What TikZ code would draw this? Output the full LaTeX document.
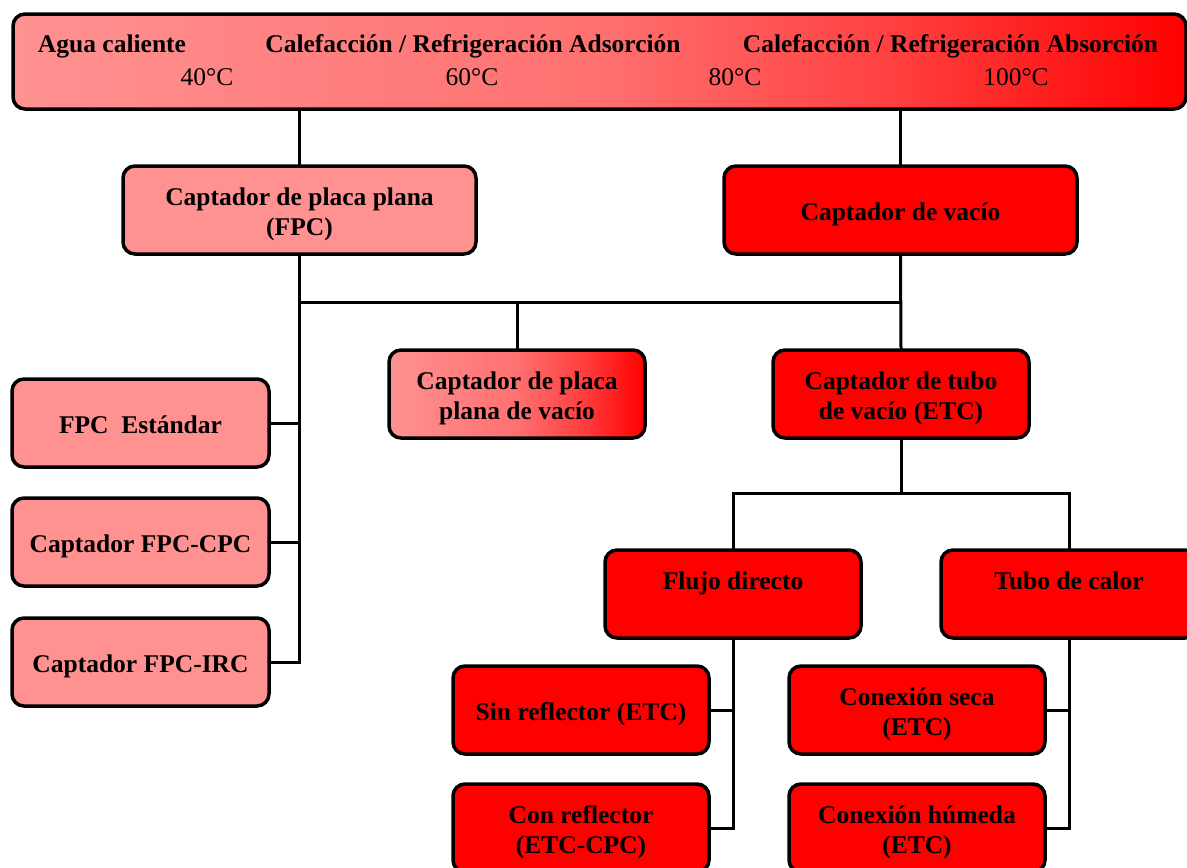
\documentclass[tikz,border=0pt]{standalone}
\usepackage{fontspec}
\setmainfont{Liberation Serif}
\definecolor{pinkc}{RGB}{255,145,145}
\definecolor{redc}{RGB}{255,0,0}
\pgfdeclarehorizontalshading{heatshade}{100bp}{rgb(0bp)=(1,0.57,0.57); rgb(25bp)=(1,0.57,0.57); rgb(50bp)=(1,0.44,0.44); rgb(62.5bp)=(1,0.25,0.25); rgb(75bp)=(1,0,0); rgb(100bp)=(1,0,0)}
\newcommand{\bt}[1]{\raisebox{-4.5pt}[\height][\depth]{\begin{tabular}{@{}c@{}}#1\end{tabular}}}
\tikzset{
  box/.style={draw=black, line width=3.5pt, rounded corners=12pt, minimum width=256pt, minimum height=88pt,
    inner sep=0pt, font=\fontsize{25.5}{29.5}\selectfont\bfseries},
  pinkbox/.style={box, fill=pinkc},
  redbox/.style={box, fill=redc},
  gradbox/.style={box, shading=heatshade},
  conn/.style={line width=3pt, line cap=rect},
  toptxt/.style={inner sep=0pt, font=\fontsize{25.5}{29}\selectfont\bfseries},
  toptemp/.style={inner sep=0pt, font=\fontsize{25.5}{29}\selectfont},
}
\begin{document}
\begin{tikzpicture}[x=1pt,y=-1pt]
\useasboundingbox (0,0) rectangle (1187,868);
\clip (0,0) rectangle (1187,868);
% top bar
\node[gradbox, minimum width=1173pt, minimum height=95pt] (top) at (599.5,61.5) {};
\node[toptxt] (t1) at (112,46.5) {Agua caliente};
\node[toptxt] (t2) at (473,46.5) {Calefacción / Refrigeración Adsorción};
\node[toptxt] (t3) at (950.5,46.5) {Calefacción / Refrigeración Absorción};
\node[toptemp] (c1) at (207,77) {40°C};
\node[toptemp] (c2) at (472,77) {60°C};
\node[toptemp] (c3) at (735,77) {80°C};
\node[toptemp] (c4) at (1016,77) {100°C};
% level 1
\node[pinkbox, minimum width=353pt] (fpc) at (299.5,210) {\bt{Captador de placa plana\\(FPC)}};
\node[redbox, minimum width=353pt] (vac) at (900.5,210) {\bt{Captador de vacío}};
% level 2
\node[gradbox] (ppv) at (517,394) {\bt{Captador de placa\\plana de vacío}};
\node[redbox] (etc) at (901,394) {\bt{Captador de tubo\\de vacío (ETC)}};
% left column
\node[pinkbox, minimum width=257pt] (std) at (140.5,423) {\bt{FPC\ \ Estándar}};
\node[pinkbox, minimum width=257pt] (cpc) at (140.5,542) {\bt{Captador FPC-CPC}};
\node[pinkbox, minimum width=257pt] (irc) at (140.5,662) {\bt{Captador FPC-IRC}};
% level 3
\node[redbox] (flu) at (733,594) {\bt{Flujo directo\\\mbox{}}};
\node[redbox] (tub) at (1069,594) {\bt{Tubo de calor\\\mbox{}}};
% level 4
\node[redbox] (sin) at (581,710) {\bt{Sin reflector (ETC)}};
\node[redbox] (con) at (581,828) {\bt{Con reflector\\(ETC-CPC)}};
\node[redbox] (sec) at (917,710) {\bt{Conexión seca\\(ETC)}};
\node[redbox] (hum) at (917,828) {\bt{Conexión húmeda\\(ETC)}};
% connectors
\draw[conn] (top.south -| fpc.north) -- (fpc.north);
\draw[conn] (top.south -| vac.north) -- (vac.north);
\coordinate (hb) at (517,302);
\draw[conn] (fpc.south) |- (irc.east);
\draw[conn] (std.east) -- (std.east -| fpc.south);
\draw[conn] (cpc.east) -- (cpc.east -| fpc.south);
\draw[conn] (fpc.south |- hb) -- (vac.south |- hb);
\draw[conn] (hb) -- (ppv.north);
\draw[conn] (vac.south) -- (etc.north);
\coordinate (eb) at (901,493);
\draw[conn] (etc.south) -- (eb);
\draw[conn] (flu.north) |- (tub.north |- eb) -- (tub.north);
\draw[conn] (flu.south) |- (con.east);
\draw[conn] (sin.east) -- (sin.east -| flu.south);
\draw[conn] (tub.south) |- (hum.east);
\draw[conn] (sec.east) -- (sec.east -| tub.south);
\end{tikzpicture}
\end{document}
